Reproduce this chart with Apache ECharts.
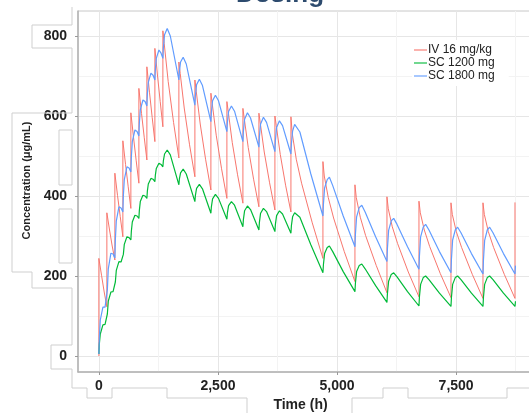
<!DOCTYPE html>
<html>
<head>
<meta charset="utf-8">
<title>Dosing</title>
<script src="https://cdn.jsdelivr.net/npm/echarts@6/dist/echarts.min.js"></script>
<style>
    html, body { margin: 0; padding: 0; background: #fff; }
    #chart { width: 529px; height: 413px; }
</style>
</head>
<body>
<div id="chart"></div>
<script>
    // 数据 [时间 h, 浓度 μg/mL]
    var ivData = [
        [0, 0], [0, 244], [56, 202], [112, 160],
        [168, 123], [168, 358], [224, 315], [280, 275],
        [336, 240], [336, 457], [392, 401], [448, 349],
        [504, 298], [504, 538], [560, 479], [616, 423],
        [672, 369], [672, 608], [728, 546], [784, 488],
        [840, 432], [840, 669], [896, 606], [952, 547],
        [1008, 490], [1008, 723], [1064, 658], [1120, 596],
        [1176, 536], [1176, 769], [1232, 700], [1288, 636],
        [1344, 573], [1344, 813], [1372, 781], [1456, 686], [1568, 584],
        [1680, 495], [1680, 735], [1708, 706], [1792, 620], [1904, 528],
        [2016, 448], [2016, 690], [2044, 662], [2128, 580], [2240, 492],
        [2352, 415], [2352, 657], [2380, 631], [2464, 552], [2576, 468],
        [2688, 394], [2688, 636], [2716, 611], [2800, 534], [2912, 453],
        [3024, 382], [3024, 619], [3052, 594], [3136, 521], [3248, 442],
        [3360, 373], [3360, 607], [3388, 583], [3472, 510], [3584, 433],
        [3696, 365], [3696, 600], [3724, 576], [3808, 504], [3920, 427],
        [4032, 360], [4032, 598], [4060, 556], [4144, 492], [4256, 432], [4480, 333],
        [4704, 244], [4704, 486], [4732, 450], [4816, 396], [4928, 345], [5152, 261],
        [5376, 186], [5376, 428], [5404, 396], [5488, 347], [5600, 301], [5824, 226],
        [6048, 158], [6048, 398], [6076, 368], [6160, 323], [6272, 281], [6496, 210],
        [6720, 148], [6720, 387], [6748, 358], [6832, 315], [6944, 274], [7168, 206],
        [7392, 146], [7392, 383], [7420, 354], [7504, 311], [7616, 271], [7840, 204],
        [8064, 144], [8064, 383], [8092, 354], [8176, 311], [8288, 271], [8512, 204],
        [8736, 144], [8736, 384]
    ];

    var sc1200Data = [
        [0, 5], [10, 30], [30, 55], [85, 78], [130, 79],
        [168, 76], [178, 105], [198, 137], [253, 160], [298, 161],
        [336, 158], [346, 185], [366, 214], [421, 236], [466, 235],
        [504, 230], [514, 254], [534, 279], [589, 298], [634, 296],
        [672, 290], [682, 312], [702, 335], [757, 352], [802, 350],
        [840, 344], [850, 364], [870, 386], [925, 402], [970, 400],
        [1008, 394], [1018, 412], [1038, 430], [1093, 444], [1138, 442],
        [1176, 436], [1186, 452], [1206, 469], [1261, 482], [1306, 479],
        [1344, 473], [1354, 488], [1379, 505], [1435, 515], [1500, 503],
        [1680, 428], [1690, 442], [1715, 458], [1770, 467], [1835, 455],
        [2016, 386], [2026, 401], [2051, 419], [2110, 429], [2175, 418],
        [2352, 357], [2362, 373], [2387, 393], [2447, 404], [2512, 394],
        [2688, 342], [2698, 357], [2723, 376], [2783, 386], [2848, 377],
        [3024, 323], [3034, 341], [3059, 363], [3119, 375], [3184, 366],
        [3360, 315], [3370, 334], [3395, 357], [3455, 369], [3520, 361],
        [3696, 311], [3706, 329], [3731, 351], [3791, 363], [3856, 355],
        [4032, 307], [4042, 326], [4067, 348], [4110, 358], [4150, 361], [4220, 347], [4450, 278],
        [4704, 208], [4714, 228], [4739, 256], [4794, 271], [4840, 275], [4910, 261], [5130, 211],
        [5376, 161], [5386, 182], [5411, 211], [5466, 226], [5520, 230], [5590, 218], [5810, 176],
        [6048, 134], [6058, 156], [6083, 187], [6138, 204], [6190, 208], [6260, 198], [6480, 161],
        [6720, 125], [6730, 148], [6755, 179], [6810, 196], [6860, 200], [6930, 191], [7150, 157],
        [7392, 124], [7402, 147], [7427, 179], [7482, 196], [7532, 200], [7602, 191], [7822, 157],
        [8064, 124], [8074, 147], [8099, 179], [8154, 196], [8204, 200], [8274, 191], [8494, 157],
        [8736, 124], [8746, 137]
    ];

    var sc1800Data = [
        [0, 5], [10, 45], [30, 90], [85, 122], [130, 122],
        [168, 118], [178, 165], [198, 218], [253, 257], [298, 255],
        [336, 245], [346, 290], [366, 337], [421, 373], [466, 370],
        [504, 360], [514, 400], [534, 441], [589, 473], [634, 470],
        [672, 460], [682, 497], [702, 536], [757, 565], [802, 561],
        [840, 550], [850, 582], [870, 615], [925, 640], [970, 636],
        [1008, 625], [1018, 654], [1038, 684], [1093, 707], [1138, 702],
        [1176, 690], [1186, 716], [1206, 744], [1261, 765], [1306, 757],
        [1344, 744], [1354, 770], [1379, 803], [1435, 819], [1500, 800],
        [1680, 690], [1690, 710], [1715, 735], [1770, 747], [1835, 730],
        [2016, 627], [2026, 650], [2051, 678], [2110, 692], [2175, 676],
        [2352, 586], [2362, 609], [2387, 638], [2447, 652], [2512, 638],
        [2688, 561], [2698, 583], [2723, 611], [2783, 625], [2848, 612],
        [3024, 536], [3034, 561], [3059, 592], [3119, 608], [3184, 595],
        [3360, 522], [3370, 548], [3395, 580], [3455, 597], [3520, 584],
        [3696, 511], [3706, 538], [3731, 571], [3791, 588], [3856, 576],
        [4032, 505], [4042, 530], [4067, 562], [4110, 579], [4150, 583], [4220, 560], [4450, 455],
        [4704, 350], [4714, 379], [4739, 420], [4794, 441], [4840, 447], [4910, 426], [5130, 350],
        [5376, 273], [5386, 304], [5411, 348], [5466, 371], [5520, 377], [5590, 360], [5810, 298],
        [6048, 236], [6058, 268], [6083, 314], [6138, 338], [6190, 344], [6260, 329], [6480, 273],
        [6720, 217], [6730, 250], [6755, 298], [6810, 322], [6860, 329], [6930, 315], [7150, 261],
        [7392, 208], [7402, 242], [7427, 290], [7482, 315], [7532, 322], [7602, 308], [7822, 256],
        [8064, 205], [8074, 240], [8099, 289], [8154, 315], [8204, 322], [8274, 308], [8494, 256],
        [8736, 205], [8746, 226]
    ];

    var xTicks = [0, 2500, 5000, 7500];
    var xMinorTicks = [1250, 3750, 6250, 8750];
    var yTicks = [0, 200, 400, 600, 800];
    var yMinorTicks = [100, 300, 500, 700];

    var font = "'Liberation Sans', Arial, sans-serif";
    var frameColor = '#cfcfcf';

    var myChart = echarts.init(document.getElementById('chart'));
    var option = {
        animation: false,
        backgroundColor: '#fff',
        textStyle: { fontFamily: font },
        graphic: [
            // 标题只露出下半截
            {
                type: 'text', x: 280, y: 8, z: 100,
                style: {
                    text: 'Dosing', align: 'center', verticalAlign: 'bottom',
                    font: 'bold 26px ' + font, fill: '#2d4b6e'
                }
            },
            // 截图里残留的灰色框线
            {
                type: 'polyline', z: 100, silent: true,
                shape: { points: [[72, 7], [72, 25], [32, 25], [32, 48], [72, 48], [72, 113], [12, 113], [12, 272], [32, 272], [32, 288], [72, 288], [72, 345], [51, 345], [51, 369], [72, 369], [72, 388], [87, 388], [87, 398], [112, 398], [112, 388], [167, 388], [167, 398], [247, 398], [247, 413]] },
                style: { stroke: frameColor, fill: null, lineWidth: 1 }
            },
            {
                type: 'polyline', z: 100, silent: true,
                shape: { points: [[352, 413], [352, 398], [383, 398], [383, 388], [408, 388], [408, 398], [507, 398], [507, 388], [529, 388]] },
                style: { stroke: frameColor, fill: null, lineWidth: 1 }
            },
            { type: 'rect', z: 100, silent: true, shape: { x: 59, y: 130, width: 13, height: 55 }, style: { stroke: frameColor, fill: '#fff' } },
            { type: 'rect', z: 100, silent: true, shape: { x: 59, y: 209, width: 13, height: 54 }, style: { stroke: frameColor, fill: '#fff' } }
        ],
        legend: {
            orient: 'vertical',
            left: 412,
            top: 40,
            itemWidth: 13,
            itemHeight: 10,
            itemGap: 1,
            icon: 'path://M0,4.4 H14 V5.6 H0 Z',
            padding: [4, 14, 4, 2],
            backgroundColor: '#fff',
            textStyle: { fontSize: 12, color: '#222', padding: [0, 0, 0, -4], lineHeight: 11 },
            data: ['IV 16 mg/kg', 'SC 1200 mg', 'SC 1800 mg']
        },
        grid: {
            left: 78, top: 11, right: -8, bottom: 41,
            containLabel: false,
            outerBoundsMode: 'none',
            show: true, borderColor: '#c8c8c8', borderWidth: 1, backgroundColor: '#fff'
        },
        xAxis: [{
                type: 'value',
                min: -438,
                max: 9198,
                name: 'Time (h)',
                nameLocation: 'middle',
                nameGap: 26,
                nameTextStyle: { fontSize: 14, fontWeight: 'bold', color: '#222', padding: [0, 14, 0, 0] },
                axisLine: { show: true, onZero: false, lineStyle: { color: '#b3b3b3', width: 1.5 } },
                axisTick: { show: true, length: 3, customValues: xTicks, lineStyle: { color: '#999' } },
                axisLabel: {
                    customValues: xTicks, margin: 7, fontSize: 14, fontWeight: 'bold', color: '#222',
                    formatter: function (v) { return v.toLocaleString('en-US'); }
                },
                splitLine: { show: true, lineStyle: { color: '#e6e6e6' } }
            },
            {
                type: 'value',
                min: -438,
                max: 9198,
                axisLine: { show: false },
                axisTick: { show: false, customValues: xMinorTicks },
                axisLabel: { show: false },
                splitLine: { show: true, lineStyle: { color: '#f3f3f3' } }
            }
        ],
        yAxis: [{
                type: 'value',
                min: -40,
                max: 862.5,
                name: 'Concentration (μg/mL)',
                nameLocation: 'middle',
                nameGap: 44,
                nameTextStyle: { fontSize: 11, fontWeight: 'bold', color: '#222', padding: [0, 0, 0, 22] },
                axisLine: { show: true, onZero: false, lineStyle: { color: '#b3b3b3', width: 1.5 } },
                axisTick: { show: true, length: 3, customValues: yTicks, lineStyle: { color: '#999' } },
                axisLabel: { customValues: yTicks, margin: 11, fontSize: 14, fontWeight: 'bold', color: '#222' },
                splitLine: { show: true, lineStyle: { color: '#e6e6e6' } }
            },
            {
                type: 'value',
                min: -40,
                max: 862.5,
                axisLine: { show: false },
                axisTick: { show: false, customValues: yMinorTicks },
                axisLabel: { show: false },
                splitLine: { show: true, lineStyle: { color: '#f3f3f3' } }
            }
        ],
        series: [{
                name: 'IV 16 mg/kg',
                type: 'line',
                symbol: 'none',
                color: '#F8766D',
                lineStyle: { width: 1, color: '#F8766D' },
                data: ivData
            },
            {
                name: 'SC 1200 mg',
                type: 'line',
                symbol: 'none',
                color: '#00BA38',
                lineStyle: { width: 1.2, color: '#00BA38' },
                data: sc1200Data
            },
            {
                name: 'SC 1800 mg',
                type: 'line',
                symbol: 'none',
                color: '#619CFF',
                lineStyle: { width: 1.2, color: '#619CFF' },
                data: sc1800Data
            }
        ]
    };
    myChart.setOption(option);
</script>
</body>
</html>
